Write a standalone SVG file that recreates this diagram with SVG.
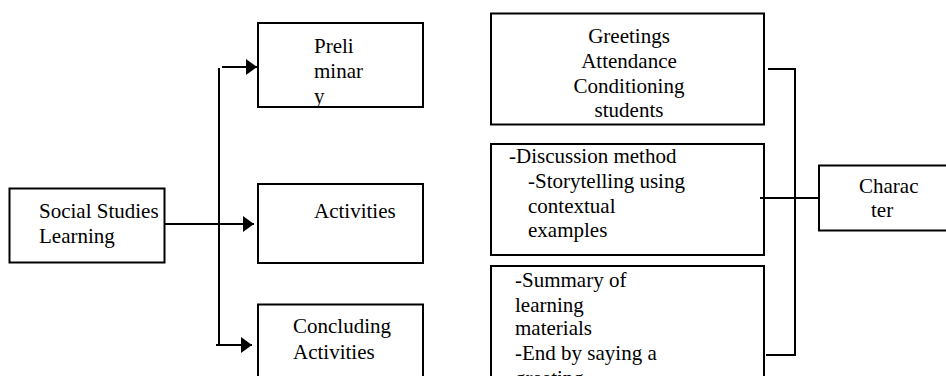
<svg xmlns="http://www.w3.org/2000/svg" width="946" height="376" viewBox="0 0 946 376" font-family="'Liberation Serif', 'Times New Roman', 'DejaVu Serif', serif">
<defs>
<style>
.box{fill:#fff;stroke:#000;stroke-width:2}
.ln{fill:none;stroke:#000;stroke-width:2}
text{font-family:'Liberation Serif','Times New Roman','DejaVu Serif',serif;font-size:21px;fill:#000}
.c{text-anchor:middle}
</style>
<marker id="ah" viewBox="0 0 11 16" markerWidth="11" markerHeight="16" refX="11" refY="8" orient="auto" markerUnits="userSpaceOnUse">
<path d="M0,0 L11,8 L0,16 Z" fill="#000"/>
</marker>
</defs>
<rect width="946" height="376" fill="#fff"/>
<g id="social">
<rect class="box" x="9.5" y="188.5" width="155" height="74"/>
<text x="39" y="218">Social Studies</text>
<text x="39" y="243">Learning</text>
</g>
<g id="preliminary">
<rect class="box" x="258" y="23" width="165" height="84"/>
<text x="314" y="53">Preli</text>
<text x="314" y="78">minar</text>
<text x="314" y="103">y</text>
</g>
<g id="activities">
<rect class="box" x="258" y="184" width="165" height="79"/>
<text x="314" y="218">Activities</text>
</g>
<g id="concluding">
<rect class="box" x="258" y="304.5" width="165" height="90"/>
<text x="293" y="333">Concluding</text>
<text x="293" y="359">Activities</text>
</g>
<g id="preliminary-detail">
<rect class="box" x="491" y="13.5" width="273" height="111"/>
<text class="c" x="629" y="43">Greetings</text>
<text class="c" x="629" y="68">Attendance</text>
<text class="c" x="629" y="93">Conditioning</text>
<text class="c" x="629" y="117">students</text>
</g>
<g id="activities-detail">
<rect class="box" x="491" y="144" width="273" height="111"/>
<text x="509" y="163">-Discussion method</text>
<text x="528" y="188">-Storytelling using</text>
<text x="528" y="213">contextual</text>
<text x="528" y="237">examples</text>
</g>
<g id="concluding-detail">
<rect class="box" x="491" y="266" width="273" height="130"/>
<text x="515" y="287">-Summary of</text>
<text x="515" y="312">learning</text>
<text x="515" y="335">materials</text>
<text x="515" y="360">-End by saying a</text>
<text x="515" y="385">greeting</text>
</g>
<g id="character">
<rect class="box" x="819" y="165.5" width="140" height="65"/>
<text x="859" y="193">Charac</text>
<text x="871" y="217">ter</text>
</g>
<g id="connectors">
<path class="ln" d="M165,224 H254" marker-end="url(#ah)"/>
<path class="ln" d="M219,68 V345"/>
<path class="ln" d="M222,67 H257" marker-end="url(#ah)"/>
<path class="ln" d="M216,345 H252" marker-end="url(#ah)"/>
<path class="ln" d="M768,69 H795 V355 H766"/>
<path class="ln" d="M760,198 H819"/>
</g>
</svg>
